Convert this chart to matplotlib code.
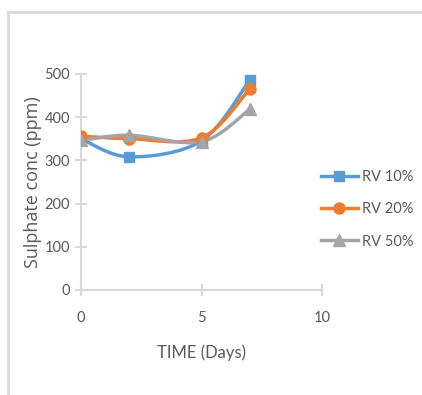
import numpy as np
import matplotlib.pyplot as plt
from matplotlib.path import Path
from matplotlib.patches import PathPatch
from matplotlib.lines import Line2D

plt.rcParams['font.family'] = ['Lato', 'DejaVu Sans']

days = [0, 2, 5, 7]
rv10 = [350, 308, 345, 485]
rv20 = [356, 350, 352, 465]
rv50 = [346, 358, 343, 418]

series = [
    ('RV 10%', rv10, '#5b9bd5', 's', 7),
    ('RV 20%', rv20, '#ed7d31', 'o', 8),
    ('RV 50%', rv50, '#a5a5a5', '^', 9),
]

txt = '#595959'
grid = '#d9d9d9'


def smooth_path(x, y):
    # excel style smoothed line: bezier through the points
    pts = np.column_stack([x, y]).astype(float)
    verts = [pts[0]]
    codes = [Path.MOVETO]
    n = len(pts)
    for i in range(n - 1):
        p0 = pts[i - 1] if i > 0 else pts[i]
        p1 = pts[i]
        p2 = pts[i + 1]
        p3 = pts[i + 2] if i + 2 < n else pts[i + 1]
        c1 = p1 + (p2 - p0) / 6.0
        c2 = p2 - (p3 - p1) / 6.0
        verts += [c1, c2, p2]
        codes += [Path.CURVE4] * 3
    return Path(verts, codes)


fig = plt.figure(figsize=(4.22, 3.95), dpi=100)
ax = fig.add_axes([0.192, 0.266, 0.571, 0.547])

handles = []
for name, vals, col, mk, ms in series:
    ax.add_patch(PathPatch(smooth_path(days, vals), fill=False, edgecolor=col, lw=2.5, zorder=2))
    ax.plot(days, vals, linestyle='none', marker=mk, color=col, markersize=ms, zorder=3)
    handles.append(Line2D([], [], color=col, lw=2.5, marker=mk, markersize=ms))

ax.set_xlim(0, 10)
ax.set_ylim(0, 500)
ax.set_xticks([0, 5, 10])
ax.set_yticks([0, 100, 200, 300, 400, 500])
for s in ['top', 'right']:
    ax.spines[s].set_visible(False)
for s in ['left', 'bottom']:
    ax.spines[s].set_color(grid)
    ax.spines[s].set_linewidth(1.5)
ax.tick_params(direction='inout', length=9, width=1.5, color=grid, labelcolor=txt, labelsize=10.5)
ax.tick_params(axis='x', pad=11)
ax.set_xlabel('TIME (Days)', color=txt, fontsize=12, labelpad=14)
ax.set_ylabel('Sulphate conc (ppm)', color=txt, fontsize=13, labelpad=2,
              family=['Open Sans', 'DejaVu Sans'])

fig.legend(handles, [s[0] for s in series], loc='center left', bbox_to_anchor=(0.73, 0.47),
           frameon=False, fontsize=10.5, labelcolor=txt, handlelength=2.5, labelspacing=1.25,
           handletextpad=0.3)

# outer chart frame
fig.add_artist(Line2D([0.018, 0.018], [0.0, 0.97], color=grid, lw=2, transform=fig.transFigure))
fig.add_artist(Line2D([0.018, 1.0], [0.97, 0.97], color=grid, lw=2, transform=fig.transFigure))

fig.savefig('out.png', dpi=100)
